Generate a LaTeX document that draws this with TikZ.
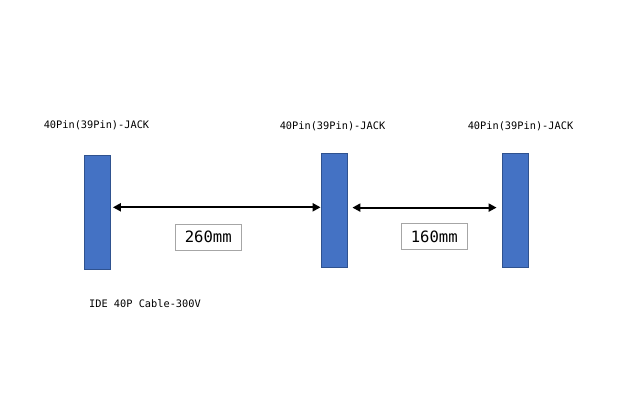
\documentclass[tikz,border=0pt]{standalone}
\usepackage{fontspec}
\setmonofont{DejaVu Sans Mono}
\usepackage{tikz}
\usetikzlibrary{arrows.meta,positioning}

\definecolor{jackfill}{HTML}{4472C4}
\definecolor{jackline}{HTML}{2F528F}

\begin{document}
\begin{tikzpicture}[x=1pt, y=-1pt, every node/.style={font=\ttfamily\fontsize{10.3}{12}\selectfont},
		jackbox/.style={draw=jackline, fill=jackfill, line width=0.8pt, minimum width=26pt, minimum height=114pt, inner sep=0pt},
		lenbox/.style={draw=gray!70, line width=0.8pt, minimum width=66pt, minimum height=26pt, inner sep=0pt, font=\ttfamily\fontsize{15.6}{18}\selectfont},
		dimarrow/.style={{Triangle[length=8pt,width=8pt]}-{Triangle[length=8pt,width=8pt]}, line width=2pt}]
	\useasboundingbox (0,0) rectangle (640,407);
	\node[jackbox] (jackA) at (97,212) {};
	\node[jackbox] (jackB) at (334,210) {};
	\node[jackbox] (jackC) at (515,210) {};
	
	\node (nameA) at (96.5,125.5) {40Pin(39Pin)-JACK};
	\node (nameB) at (332.5,126) {40Pin(39Pin)-JACK};
	\node (nameC) at (520.5,126) {40Pin(39Pin)-JACK};
	
	\draw[dimarrow] ([xshift=2.5pt,yshift=4.7pt]jackA.east) -- ([yshift=4.7pt]jackA.east -| jackB.west);
	\draw[dimarrow] ([xshift=5pt,yshift=2.4pt]jackB.east) -- ([xshift=-5pt,yshift=2.4pt]jackC.west);
	
	\node[lenbox] (lenA) at (208.3,237.3) {260mm};
	\node[lenbox] (lenB) at (434.3,236.5) {160mm};
	
	\node (cable) at (145,303.5) {IDE 40P Cable-300V};
\end{tikzpicture}
\end{document}
